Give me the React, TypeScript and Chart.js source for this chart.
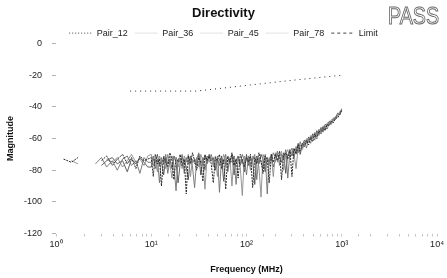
import React, { useEffect, useRef } from 'react';
import { Chart, registerables } from 'chart.js';

Chart.register(...registerables);

const frequencies = [
  1.2, 1.45, 1.7, 2.6, 3.0, 3.4, 3.9, 4.4, 5.0, 5.6, 6.2, 6.9, 7.6, 8.4, 9.2,
  10, 10.5, 11, 11.6, 12.2, 12.8, 13.5, 14.2, 14.9, 15.7, 16.5, 17.3, 18.2, 19.1,
  20.1, 21.1, 22.2, 23.3, 24.5, 25.8, 27.1, 28.5, 30, 31.5, 33.1, 34.8, 36.6, 38.5,
  40.5, 42.6, 44.8, 47.1, 49.5, 52, 54.7, 57.5, 60.5, 63.6, 66.9, 70.3, 73.9, 77.7, 81.7, 85.9, 90.3, 95, 99.9,
  105, 110, 116, 122, 128, 135, 142, 149, 157, 165, 173, 182, 191,
  201, 211, 222, 233, 245, 258, 271, 285, 300, 315, 331, 348, 366, 385,
  405, 426, 448, 471, 495, 520, 547, 575, 605, 636, 669, 703, 739, 777, 817, 859, 903, 950, 999,
];

const pair12 = [
  -73, -75, -72, null, -74, -71, -77, -73, -70, -76, -72, -79, -71, -74, -73,
  -72, -84, -70, -76, -73, -90, -71, -75, -78, -69, -74, -86, -72, -75,
  -70, -77, -73, -95, -71, -76, -69, -74, -80, -72, -75, -87, -70, -74,
  -71, -76, -88, -72, -74, -70, -79, -73, -92, -71, -75, -69, -77, -73, -85, -70, -74, -78, -72,
  -75, -70, -91, -72, -76, -69, -74, -82, -71, -73, -88, -70, -75,
  -70, -74, -68, -86, -71, -69, -73, -67, -84, -66, -70, -64, -68, -63,
  -65, -61, -64, -59, -62, -57, -60, -55, -57, -53, -55, -51, -52, -49, -50, -47, -47, -45, -42,
];

const pair36 = [
  null, null, null, -76, -72, -78, -74, -80, -73, -71, -77, -74, -82, -72, -75,
  -75, -71, -79, -73, -88, -72, -76, -70, -82, -74, -71, -77, -93, -73,
  -74, -70, -82, -72, -76, -71, -78, -91, -73, -69, -76, -72, -80, -71,
  -73, -70, -75, -79, -71, -94, -72, -76, -70, -81, -73, -75, -71, -89, -72, -76, -70, -74, -83,
  -71, -77, -73, -70, -86, -72, -75, -79, -70, -95, -72, -74, -69,
  -72, -68, -77, -70, -73, -67, -85, -69, -66, -72, -65, -69, -62, -66,
  -62, -66, -60, -63, -58, -61, -56, -58, -54, -56, -52, -54, -50, -51, -48, -48, -45, -44, -41,
];

const pair45 = [
  null, -74, -76, null, null, -73, -75, -72, -78, -74, -70, -75, -73, -77, -71,
  -70, -77, -74, -81, -71, -75, -73, -79, -70, -76, -85, -72, -74, -78,
  -73, -79, -71, -75, -70, -84, -73, -76, -72, -78, -70, -74, -92, -72,
  -75, -72, -78, -71, -84, -73, -76, -70, -74, -79, -72, -90, -71, -75, -73, -78, -96, -71, -74,
  -73, -80, -71, -75, -72, -78, -97, -70, -74, -72, -77, -71, -84,
  -69, -75, -71, -68, -80, -70, -67, -72, -68, -70, -79, -66, -64, -67,
  -64, -60, -62, -58, -60, -56, -59, -54, -56, -52, -54, -50, -51, -48, -49, -46, -46, -43, -43,
];

const pair78 = [
  null, null, null, null, -77, -74, -72, -76, -74, -81, -73, -76, -72, -75, -78,
  -78, -73, -75, -70, -77, -74, -83, -72, -76, -73, -79, -71, -75, -88,
  -76, -72, -74, -78, -86, -71, -75, -73, -77, -70, -83, -74, -71, -76,
  -70, -74, -72, -80, -73, -77, -71, -87, -74, -72, -76, -70, -83, -74, -71, -77, -73, -81, -70,
  -77, -72, -74, -89, -71, -76, -70, -73, -81, -72, -75, -70, -78,
  -74, -70, -72, -75, -69, -82, -70, -68, -71, -67, -69, -63, -70, -64,
  -61, -63, -59, -61, -57, -59, -55, -57, -53, -55, -51, -52, -49, -50, -47, -47, -44, -45, -42,
];

const limitFrequencies = [6, 30, 100, 300, 1000];
const limitValues = [-30, -30, -26.4, -23.2, -20];

const seriesNames = ['Pair_12', 'Pair_36', 'Pair_45', 'Pair_78', 'Limit'];
const seriesColors = ['#2a2a2a', '#6f6f6f', '#8a8a8a', '#4f4f4f', '#2a2a2a'];
const legendColors = ['#444444', '#e2e2e2', '#e2e2e2', '#e2e2e2', '#444444'];
const xTickValues = [1, 10, 100, 1000, 10000];
const xTickLabels = ['10\u2070', '10\u00b9', '10\u00b2', '10\u00b3', '10\u2074'];
const yMin = -120;
const yMax = 0;
const yStep = 20;

const FONT = "'Liberation Sans', Arial, Helvetica, sans-serif";

function toPoints(xs: number[], ys: (number | null)[]) {
  return xs.map((x, i) => ({ x, y: ys[i] }));
}

export default function App() {
  const canvasRef = useRef<HTMLCanvasElement | null>(null);

  useEffect(() => {
    document.body.style.margin = '0';
    const canvas = canvasRef.current;
    if (!canvas) return;
    const lineStyle = (i: number, dash: number[], width: number) => ({
      label: seriesNames[i],
      borderColor: seriesColors[i],
      borderWidth: width,
      borderDash: dash,
      pointRadius: 0,
      fill: false,
    });
    const chart = new Chart(canvas, {
      type: 'line',
      data: {
        datasets: [
          { ...lineStyle(0, [2, 1], 1), data: toPoints(frequencies, pair12) },
          { ...lineStyle(1, [], 0.9), data: toPoints(frequencies, pair36) },
          { ...lineStyle(2, [], 0.9), data: toPoints(frequencies, pair45) },
          { ...lineStyle(3, [], 0.9), data: toPoints(frequencies, pair78) },
          { ...lineStyle(4, [1, 4], 1), data: toPoints(limitFrequencies, limitValues) },
        ],
      },
      options: {
        responsive: false,
        animation: false,
        events: [],
        layout: { padding: 0 },
        plugins: {
          title: {
            display: true,
            text: 'Directivity',
            color: '#111',
            font: { family: FONT, size: 13, weight: 'bold' },
            padding: { top: 6, bottom: 0 },
          },
          legend: {
            display: true,
            position: 'top',
            maxHeight: 22,
            labels: {
              color: '#222',
              font: { family: FONT, size: 9 },
              usePointStyle: true,
              pointStyle: 'line',
              pointStyleWidth: 23,
              boxWidth: 23,
              padding: 7,
              generateLabels: (c: any) => {
                const items = (Chart as any).defaults.plugins.legend.labels.generateLabels(c);
                return items.map((item: any, i: number) => ({
                  ...item,
                  strokeStyle: legendColors[i],
                  fillStyle: legendColors[i],
                  lineWidth: 1,
                  lineDash: i === 0 ? [1, 2] : i === 4 ? [3, 3] : [],
                  pointStyle: 'line',
                }));
              },
            },
          },
          tooltip: { enabled: false },
        },
        scales: {
          x: {
            type: 'logarithmic',
            min: xTickValues[0],
            max: xTickValues[xTickValues.length - 1],
            border: { display: false },
            grid: {
              drawOnChartArea: false,
              drawTicks: true,
              tickLength: 3,
              color: '#c4c4c4',
            },
            ticks: {
              autoSkip: false,
              maxRotation: 0,
              padding: 3,
              color: '#222',
              font: { family: FONT, size: 9 },
              callback: (value: any) => {
                const v = Number(value);
                const idx = xTickValues.findIndex((t) => Math.abs(t - v) / t < 1e-6);
                return idx >= 0 ? xTickLabels[idx] : '';
              },
            },
            title: {
              display: true,
              text: 'Frequency (MHz)',
              color: '#111',
              font: { family: FONT, size: 9, weight: 'bold' },
              padding: { top: 0, bottom: 3 },
            },
            afterFit: (scale: any) => {
              scale.height = 44.5;
            },
          },
          y: {
            type: 'linear',
            min: yMin,
            max: yMax,
            border: { display: false },
            grid: {
              drawOnChartArea: false,
              drawTicks: true,
              tickLength: 4,
              color: '#b0b0b0',
            },
            ticks: {
              stepSize: yStep,
              padding: 10,
              color: '#222',
              font: { family: FONT, size: 9 },
            },
            title: {
              display: true,
              text: 'Magnitude',
              color: '#111',
              font: { family: FONT, size: 9, weight: 'bold' },
              padding: { top: 5, bottom: 0 },
            },
            afterFit: (scale: any) => {
              scale.width = 56;
            },
          },
        },
      },
    });
    return () => chart.destroy();
  }, []);

  return (
    <div style={{ position: 'relative', width: 447, height: 278, background: '#fff' }}>
      <canvas ref={canvasRef} width={447} height={278} style={{ display: 'block' }} />
      <div
        style={{
          position: 'absolute',
          left: 388,
          top: 3,
          fontFamily: FONT,
          fontSize: 24,
          lineHeight: '26px',
          color: '#fff',
          WebkitTextStroke: '1px #6a6a6a',
          transform: 'scaleX(0.82)',
          transformOrigin: 'left top',
          whiteSpace: 'nowrap',
        }}
      >
        PASS
      </div>
    </div>
  );
}
